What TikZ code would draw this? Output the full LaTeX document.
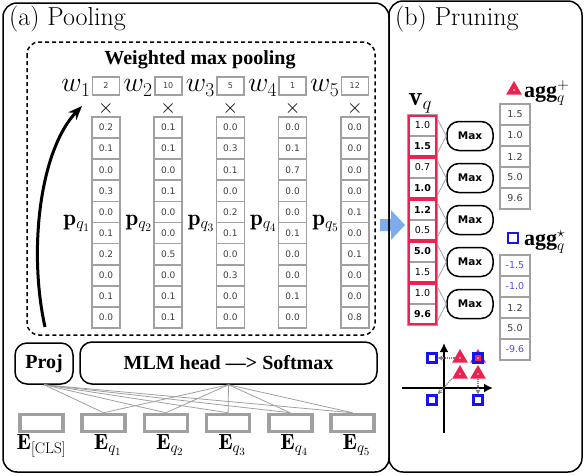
\RequirePackage{fix-cm}
\documentclass[tikz,border=0pt]{standalone}
\usepackage{fontspec}
\usepackage{amsmath}
\newfontfamily\headfont{Liberation Serif}
\newfontfamily\numfont{DejaVu Sans}
\usetikzlibrary{positioning,shapes.geometric,arrows.meta,fit}

\definecolor{aggred}{RGB}{236,34,80}
\definecolor{aggblue}{RGB}{20,20,235}
\definecolor{cellgray}{RGB}{160,160,160}
\definecolor{numgray}{RGB}{60,60,60}
\definecolor{negblue}{RGB}{80,80,235}
\definecolor{arrowblue}{RGB}{125,172,236}

\tikzset{
  panel/.style={draw, line width=1.5pt, rounded corners=14pt},
  cell/.style={draw=cellgray, line width=1.6pt, minimum width=28pt, minimum height=21pt,
    inner sep=0pt, text=numgray, font=\numfont\fontsize{9}{9}\selectfont},
  wbox/.style={cell, minimum width=27pt, minimum height=18pt, font=\numfont\fontsize{8}{8}\selectfont},
  embbox/.style={draw=cellgray, line width=3.5pt, minimum width=43pt, minimum height=17pt, inner sep=0pt},
  headbox/.style={draw, line width=1.5pt, rounded corners=12pt, inner sep=0pt,
    font=\headfont\bfseries\fontsize{20}{20}\selectfont},
  maxbox/.style={draw, line width=1.5pt, rounded corners=12pt, minimum width=46pt,
    minimum height=29pt, inner sep=0pt, font=\numfont\bfseries\fontsize{10.5}{10.5}\selectfont},
  link/.style={draw=cellgray, line width=0.8pt},
  pairbox/.style={draw=aggred, line width=2pt, inner sep=-1.5pt},
  tri/.style={regular polygon, regular polygon sides=3, fill=aggred, minimum size=18pt, inner sep=0pt},
  sq/.style={draw=aggblue, line width=2.5pt, minimum size=9pt, inner sep=0pt},
  pullarr/.style={draw=gray, densely dotted, line width=1.2pt, -{Stealth[length=5pt,width=5pt]}},
}

\begin{document}
\begin{tikzpicture}[x=1pt,y=-1pt]
\useasboundingbox (0,0) rectangle (584,475);

% arrow between the panels
\fill[arrowblue] (380,219) -- (391,219) -- (391,210) -- (405,225) -- (391,240) -- (391,231) -- (380,231) -- cycle;

% panels
\draw[panel] (3,3) rectangle (389,472);
\draw[panel] (389,1) rectangle (582,472);
\node[anchor=west, inner sep=0pt, font=\fontsize{26}{26}\selectfont] (titleA) at (9,19) {(a) Pooling};
\node[anchor=west, inner sep=0pt, font=\fontsize{26}{26}\selectfont] (titleB) at (395,19) {(b) Pruning};

% (a) weighted max pooling
\draw[dashed, line width=1.5pt, dash pattern=on 4pt off 3pt, rounded corners=12pt] (27,42) rectangle (375,335);
\node[font=\headfont\bfseries\fontsize{20}{20}\selectfont] (wmp) at (200,60) {Weighted max pooling};

\foreach \i/\w/\vals in {
  1/2/{0.2,0.1,0.0,0.3,0.0,0.1,0.2,0.0,0.1,0.0},
  2/10/{0.1,0.1,0.0,0.1,0.0,0.0,0.5,0.0,0.1,0.1},
  3/5/{0.0,0.3,0.1,0.0,0.2,0.1,0.0,0.3,0.0,0.0},
  4/1/{0.0,0.1,0.7,0.0,0.0,0.1,0.0,0.0,0.1,0.0},
  5/12/{0.0,0.0,0.0,0.0,0.1,0.0,0.1,0.0,0.0,0.8}}{
  \pgfmathsetmacro\cx{106+62.2*(\i-1)}
  \node[wbox] (w\i) at (\cx,86) {\w};
  \node[anchor=east, inner sep=1pt, yshift=-2pt, font=\fontsize{28}{28}\selectfont] (wl\i) at (w\i.west) {$w_{\i}$};
  \node[inner sep=0pt, font=\fontsize{20}{20}\selectfont] (x\i) at (\cx,108) {$\times$};
  \foreach \v [count=\j] in \vals {
    \node[cell] (p\i-\j) at (\cx,{117+21.1*(\j-0.5)}) {\v};
  }
  \node[anchor=east, inner sep=1pt, font=\fontsize{23}{23}\selectfont] (pl\i) at (p\i-5.south west) {$\mathbf{p}_{q_{\i}}$};
}

\coordinate (arrstart) at (45,327);
\draw[line width=3pt, -{Stealth[length=14pt,width=11pt]}] (arrstart) .. controls (28,250) and (40,150) .. (82,106);

% heads
\node[headbox, minimum width=58pt, minimum height=41pt] (proj) at (44,363.5) {Proj};
\node[headbox, minimum width=297pt, minimum height=42pt] (mlm) at (228.5,363) {MLM head —> Softmax};

% embeddings
\foreach \k in {0,...,5}
  \node[embbox] (e\k) at ({41.5+62.2*\k},423) {};
\node[anchor=north, inner sep=1pt, font=\fontsize{22}{22}\selectfont] (el0) at (e0.south) {$\mathbf{E}_{\text{[CLS]}}$};
\foreach \k in {1,...,5} {
  \node[anchor=north, inner sep=1pt, xshift=4pt, font=\fontsize{22}{22}\selectfont] (el\k) at (e\k.south) {$\mathbf{E}_{q_{\k}}$};
  \draw[link] (proj.south) -- (e\k.north);
  \draw[link] (mlm.south) -- (e\k.north);
}

% (b) pruning
\foreach \v [count=\j] in {1.0,\bfseries 1.5,0.7,\bfseries 1.0,\bfseries 1.2,0.5,\bfseries 5.0,1.5,1.0,\bfseries 9.6}
  \node[cell, minimum width=29pt, font=\numfont\fontsize{9.5}{9.5}\selectfont, text=black] (v\j) at (422.5,{115+21*(\j-0.5)}) {\v};
\node[anchor=south west, inner sep=1pt, font=\fontsize{27}{27}\selectfont] (vlab) at (v1.north west) {$\mathbf{v}_q$};

\foreach \m in {1,...,5} {
  \pgfmathtruncatemacro\a{2*\m-1}
  \pgfmathtruncatemacro\b{2*\m}
  \node[pairbox, fit=(v\a)(v\b)] (pair\m) {};
  \node[maxbox] (max\m) at (470,{136+42*(\m-1)}) {Max};
  \draw[link] ([yshift=-4pt]pair\m.north east) -- (max\m.west);
  \draw[link] ([yshift=4pt]pair\m.south east) -- (max\m.west);
}

% aggregated vectors
\node[tri] (legtri) at (514,90) {};
\fill[white] (legtri.center) circle[radius=0.8pt];
\node[anchor=base west, inner sep=0pt, font=\fontsize{22}{22}\selectfont] (aggp) at (524,97) {$\text{\headfont\bfseries agg}^{+}_{q}$};
\foreach \v [count=\j] in {1.5,1.0,1.2,5.0,9.6}
  \node[cell, minimum width=30pt, font=\numfont\fontsize{9.5}{9.5}\selectfont] (ap\j) at (515,{104+21*(\j-0.5)}) {\v};

\node[sq, minimum size=10pt] (legsq) at (513,238) {};
\node[anchor=base west, inner sep=0pt, font=\fontsize{22}{22}\selectfont] (aggs) at (524,245) {$\text{\headfont\bfseries agg}^{\star}_{q}$};
\foreach \v [count=\j] in {\color{negblue}-1.5,\color{negblue}-1.0,1.2,5.0,\color{negblue}-9.6}
  \node[cell, minimum width=30pt, font=\numfont\fontsize{9.5}{9.5}\selectfont] (as\j) at (515,{255+21*(\j-0.5)}) {\v};

% sign flip sketch
\draw[line width=2pt, -{Latex[length=9pt,width=9pt]}] (444,433) -- (444,343);
\draw[line width=2pt, -{Latex[length=9pt,width=9pt]}] (402,388) -- (493,388);
\node[tri] (t1) at (460,358) {};
\node[tri] (t2) at (478,358) {};
\node[tri] (t3) at (460,374) {};
\node[tri] (t4) at (478,374) {};
\foreach \k in {1,...,4}
  \fill[white] (t\k.center) circle[radius=0.8pt];
\node[sq] (s1) at (432,358) {};
\node[sq] (s2) at (478,358) {};
\node[sq] (s3) at (432,400) {};
\node[sq] (s4) at (478,400) {};
\draw[pullarr] (t1.west) -- (s1.east);
\draw[pullarr] (t3.corner 2) -- (s3.north east);
\draw[pullarr] (t4.south) -- (s4.north);
\end{tikzpicture}
\end{document}
